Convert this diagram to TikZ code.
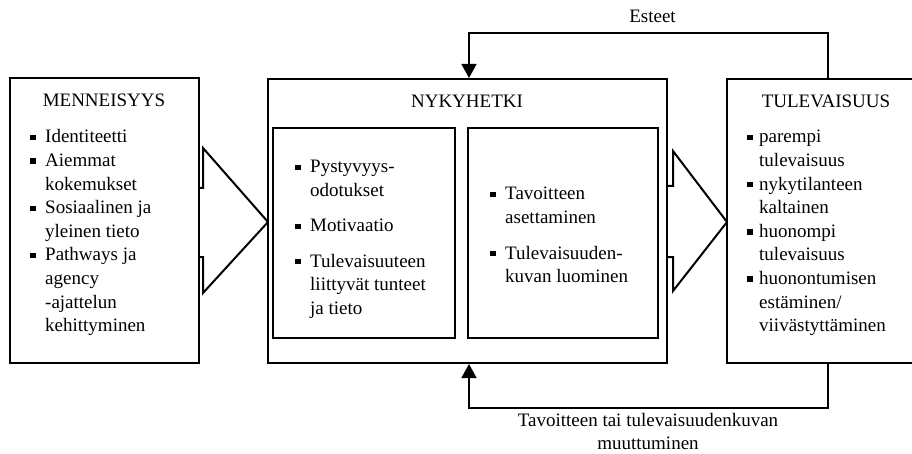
\documentclass[tikz,border=0pt]{standalone}
\usepackage{fontspec}
\setmainfont{Liberation Serif}
\usetikzlibrary{arrows.meta}
\newcommand{\bbul}[3]{\node[bul] (#1) at (#2,#3-5.5) {};}
\newcommand{\bline}[4]{\node[txt] (#1) at (#2,#3) {#4};}
\begin{document}
\begin{tikzpicture}[x=1pt,y=-1pt,
  outerbox/.style={draw,line width=2pt,fill=white,inner sep=0pt},
  innerbox/.style={draw,line width=1.2pt,fill=white,inner sep=0pt},
  bul/.style={fill=black,inner sep=0pt,minimum size=5.5pt},
  txt/.style={anchor=base west,inner sep=0pt,font=\fontsize{19}{23.5}\selectfont},
  title/.style={anchor=base,inner sep=0pt,font=\fontsize{19}{23.5}\selectfont},
  blockarrow/.style={draw,line width=2pt,line join=miter},
  conn/.style={draw,line width=1.6pt,-{Triangle[length=14pt,width=15pt]}}]
\useasboundingbox (0,0) rectangle (912,454);
\clip (0,0) rectangle (912,454);
\fill[white] (0,0) rectangle (912,454);

% block arrows (behind boxes)
\draw[blockarrow] (195,188) -- (203,188) -- (203,148) -- (268,222) -- (203,293) -- (203,257) -- (195,257);
\draw[blockarrow] (663,186) -- (673,186) -- (673,151) -- (727,222) -- (673,291) -- (673,257) -- (663,257);

% boxes
\node[outerbox,minimum width=189pt,minimum height=285pt] (men) at (104.5,220.5) {};
\node[outerbox,minimum width=399pt,minimum height=284pt] (nyk) at (467.5,221) {};
\node[outerbox,minimum width=190pt,minimum height=284pt] (tul) at (822,221) {};
\node[innerbox,minimum width=182pt,minimum height=210pt] (in1) at (364,233) {};
\node[innerbox,minimum width=190pt,minimum height=210pt] (in2) at (563,233) {};

% titles
\node[title] (tmen) at (104,107) {MENNEISYYS};
\node[title] (tnyk) at (467,108) {NYKYHETKI};
\node[title] (ttul) at (826,108) {TULEVAISUUS};

% left box list
\bbul{mb1}{33}{143}\bline{ml1}{45}{143}{Identiteetti}
\bbul{mb2}{33}{166.6}\bline{ml2}{45}{166.6}{Aiemmat}
\bline{ml3}{45}{190.2}{kokemukset}
\bbul{mb3}{33}{213.8}\bline{ml4}{45}{213.8}{Sosiaalinen ja}
\bline{ml5}{45}{237.4}{yleinen tieto}
\bbul{mb4}{33}{261}\bline{ml6}{45}{261}{Pathways ja}
\bline{ml7}{45}{284.6}{agency}
\bline{ml8}{45}{308.2}{-ajattelun}
\bline{ml9}{45}{331.8}{kehittyminen}

% right box list
\bbul{tb1}{750}{143}\bline{tl1}{759}{143}{parempi}
\bline{tl2}{759}{166.6}{tulevaisuus}
\bbul{tb2}{750}{190.2}\bline{tl3}{759}{190.2}{nykytilanteen}
\bline{tl4}{759}{213.8}{kaltainen}
\bbul{tb3}{750}{237.4}\bline{tl5}{759}{237.4}{huonompi}
\bline{tl6}{759}{261}{tulevaisuus}
\bbul{tb4}{750}{284.6}\bline{tl7}{759}{284.6}{huonontumisen}
\bline{tl8}{759}{308.2}{estäminen/}
\bline{tl9}{759}{331.8}{viivästyttäminen}

% inner left list
\bbul{ab1}{298}{173}\bline{al1}{310}{173}{Pystyvyys-}
\bline{al2}{310}{196.5}{odotukset}
\bbul{ab2}{298}{232}\bline{al3}{310}{232}{Motivaatio}
\bbul{ab3}{298}{267}\bline{al4}{310}{267}{Tulevaisuuteen}
\bline{al5}{310}{290.5}{liittyvät tunteet}
\bline{al6}{310}{314}{ja tieto}

% inner right list
\bbul{bb1}{493}{200}\bline{bl1}{505}{200}{Tavoitteen}
\bline{bl2}{505}{223.5}{asettaminen}
\bbul{bb2}{493}{259}\bline{bl3}{505}{259}{Tulevaisuuden-}
\bline{bl4}{505}{282.5}{kuvan luominen}

% feedback connectors
\coordinate (ex) at (828,0);
\coordinate (nx) at (469,0);
\coordinate (ty) at (0,33);
\coordinate (by) at (0,408);
\draw[conn] (tul.north -| ex) -- (ex |- ty) -- (nx |- ty) -- (nyk.north -| nx);
\draw[conn] (tul.south -| ex) -- (ex |- by) -- (nx |- by) -- (nyk.south -| nx);

\node[title] (les) at (652.5,23) {Esteet};
\node[title] (lb1) at (648,426) {Tavoitteen tai tulevaisuudenkuvan};
\node[title] (lb2) at (648,449) {muuttuminen};
\end{tikzpicture}
\end{document}
